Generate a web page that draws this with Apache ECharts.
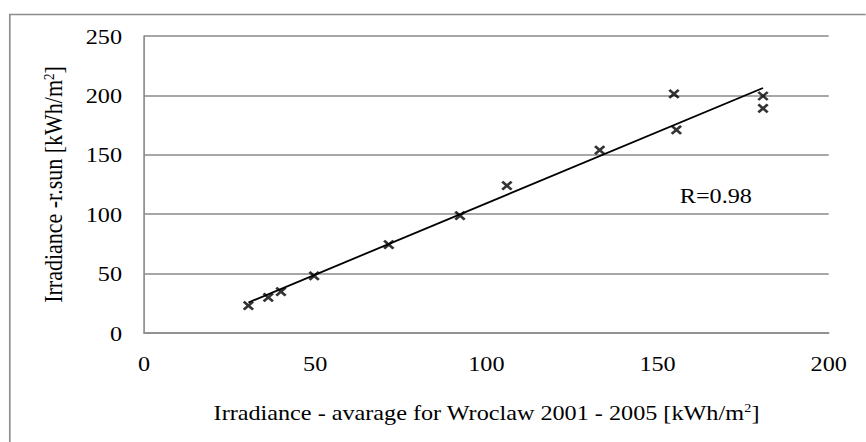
<!DOCTYPE html>
<html>
<head>
<meta charset="utf-8">
<script src="https://cdn.jsdelivr.net/npm/echarts@6/dist/echarts.min.js"></script>
<style>
html,body{margin:0;padding:0;background:#fff;overflow:hidden;}
#wrap{width:866px;height:442px;overflow:hidden;}
/* the reference chart is slightly stretched horizontally */
#chart{width:787.27px;height:442px;transform:scaleX(1.1);transform-origin:0 0;}
</style>
</head>
<body>
<div id="wrap"><div id="chart"></div></div>
<script>
// Measured irradiance (average for Wroclaw 2001-2005) vs r.sun model
const xValues = [30.5, 36.3, 40.0, 49.7, 71.5, 92.3, 106.0, 133.1, 154.8, 155.5, 180.8, 180.8];
const yValues = [23.0, 30.0, 34.8, 48.0, 74.3, 98.8, 124.0, 154.0, 201.2, 170.9, 199.5, 189.1];
const xAxisTitle = 'Irradiance - avarage for Wroclaw 2001 - 2005 [kWh/m{sup|2}]';
const yAxisTitle = 'Irradiance -r.sun [kWh/m{sup|2}]';
const rLabel = 'R=0.98';

const points = xValues.map((x, i) => [x, yValues[i]]);

// least-squares trend line across the data range
const n = xValues.length;
const mx = xValues.reduce((a, b) => a + b, 0) / n;
const my = yValues.reduce((a, b) => a + b, 0) / n;
let sxy = 0, sxx = 0;
for (let i = 0; i < n; i++) {
  sxy += (xValues[i] - mx) * (yValues[i] - my);
  sxx += (xValues[i] - mx) * (xValues[i] - mx);
}
const slope = sxy / sxx;
const intercept = my - slope * mx;
const xMin = Math.min(...xValues), xMax = Math.max(...xValues);
const trend = [[xMin, intercept + slope * xMin], [xMax, intercept + slope * xMax]];

const FONT = '"Liberation Serif", "Times New Roman", serif';
const FS = 22;
const supRich = {
  sup: { fontSize: 13, fontFamily: FONT, color: '#000', verticalAlign: 'top', lineHeight: 22 }
};

const chart = echarts.init(document.getElementById('chart'), null, { renderer: 'svg' });
chart.setOption({
  animation: false,
  backgroundColor: '#fff',
  grid: { left: 130.9, right: 33.6, top: 36, bottom: 109, containLabel: false },
  xAxis: {
    type: 'value', min: 0, max: 200, interval: 50,
    axisLine: { show: true, onZero: false, lineStyle: { color: '#8a8a8a', width: 1.5 } },
    axisTick: { show: false },
    splitLine: { show: false },
    axisLabel: { color: '#000', fontFamily: FONT, fontSize: FS, margin: 19 },
    name: xAxisTitle, nameLocation: 'middle', nameGap: 68,
    nameTextStyle: { color: '#000', fontFamily: FONT, fontSize: FS, lineHeight: 22, rich: supRich }
  },
  yAxis: {
    type: 'value', min: 0, max: 250, interval: 50,
    axisLine: { show: true, lineStyle: { color: '#8a8a8a', width: 1.5 } },
    axisTick: { show: false },
    splitLine: { show: true, lineStyle: { color: '#8a8a8a', width: 1.5 } },
    axisLabel: { color: '#000', fontFamily: FONT, fontSize: FS, margin: 20 },
    name: yAxisTitle, nameLocation: 'middle', nameGap: 71,
    nameTextStyle: { color: '#000', fontFamily: FONT, fontSize: FS, lineHeight: 22, rich: supRich }
  },
  series: [
    {
      type: 'line',
      data: trend,
      showSymbol: false,
      lineStyle: { color: '#000', width: 1.8 },
      z: 2,
      silent: true
    },
    {
      type: 'scatter',
      data: points,
      symbol: 'path://M0 0L10 10M10 0L0 10',
      symbolSize: [8.5, 8],
      itemStyle: { color: 'none', borderColor: '#000', borderWidth: 2.5 },
      z: 3
    }
  ],
  graphic: [
    {
      type: 'rect',
      left: 6.4, top: 12,
      shape: { width: 900, height: 500 },
      style: { fill: 'none', stroke: '#8c8c8c', lineWidth: 1.5 },
      silent: true
    },
    {
      type: 'text',
      left: 618, top: 184,
      style: { text: rLabel, fill: '#000', font: FS + 'px ' + FONT }
    }
  ]
});
</script>
</body>
</html>
